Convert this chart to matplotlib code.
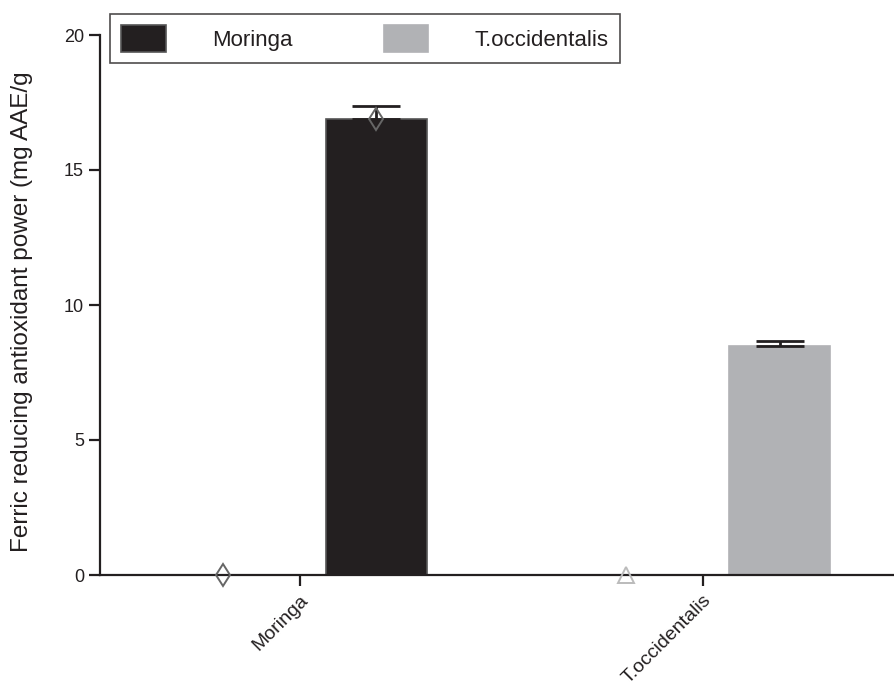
import matplotlib
matplotlib.use("Agg")
import matplotlib.pyplot as plt
from matplotlib.patches import Patch
import numpy as np

categories = ["Moringa", "T.occidentalis"]
bar_values = [16.9, 8.47]
bar_err_upper = [0.48, 0.2]
point_values = [0.0, 0.0]
bar_colors = ["#231f20", "#b1b2b5"]
bar_edges = ["#555555", "#b1b2b5"]
point_markers = ["d", "^"]
point_colors = ["#666666", "#bbbbbb"]
ylabel = "Ferric reducing antioxidant power (mg AAE/g"
yticks = [0, 5, 10, 15, 20]

plt.rcParams['font.family'] = ['Liberation Sans', 'DejaVu Sans']

W, H = 894, 687
fig = plt.figure(figsize=(W / 100, H / 100), dpi=100)
ax = fig.add_axes([100 / W, (H - 575) / H, 1 - 100 / W, (575 - 35) / H])

x = np.arange(len(categories))
off = 0.19
bw = 0.25
bars = ax.bar(x + off, bar_values, width=bw, color=bar_colors, edgecolor=bar_edges,
              linewidth=1.2, zorder=2)
ax.errorbar(x + off, bar_values, yerr=[[0] * len(bar_values), bar_err_upper], fmt="none",
            ecolor="#231f20", elinewidth=2, capsize=17, capthick=2, zorder=3)
# mean marker on top of the Moringa bar
ax.plot(x[0] + off, bar_values[0], marker="d", markersize=11.5, markerfacecolor="none",
        markeredgecolor="#666666", markeredgewidth=1.4, zorder=4)
for i in range(len(categories)):
    ax.plot(x[i] - off, point_values[i], marker=point_markers[i], markersize=11.5,
            markerfacecolor="none", markeredgecolor=point_colors[i],
            markeredgewidth=1.4, linestyle="none", zorder=4, clip_on=False)

ax.set_xlim(-0.496, 1.474)
ax.set_ylim(0, 20)
ax.set_yticks(yticks)
ax.set_yticklabels([str(v) for v in yticks], fontsize=13)
ax.set_xticks(x)
ax.set_xticklabels(categories, rotation=45, ha="right", va="top", fontsize=14,
                   rotation_mode="anchor")
for s in ["top", "right"]:
    ax.spines[s].set_visible(False)
for s in ["left", "bottom"]:
    ax.spines[s].set_linewidth(1.6)
    ax.spines[s].set_color("#231f20")
ax.tick_params(axis="both", direction="out", length=8, width=1.6, color="#231f20",
               labelcolor="#231f20")
ax.tick_params(axis="x", pad=4)
ax.set_ylabel(ylabel, fontsize=17.5, color="#231f20")
ax.yaxis.set_label_coords(33 / W, (H - 312) / H, transform=fig.transFigure)

handles = [Patch(facecolor=bar_colors[i], edgecolor=bar_edges[i], linewidth=1.2)
           for i in range(len(categories))]
leg = fig.legend(handles, categories, ncol=2, loc="upper left",
                 bbox_to_anchor=(110 / W, 1 - 14 / H), fontsize=16,
                 frameon=True, fancybox=False, edgecolor="#231f20",
                 handlelength=2.0, handleheight=1.5, handletextpad=2.1,
                 columnspacing=4.1, borderpad=0.5, borderaxespad=0)
leg.get_frame().set_linewidth(1.2)
for t in leg.get_texts():
    t.set_color("#231f20")

fig.savefig("out.png", dpi=100)
